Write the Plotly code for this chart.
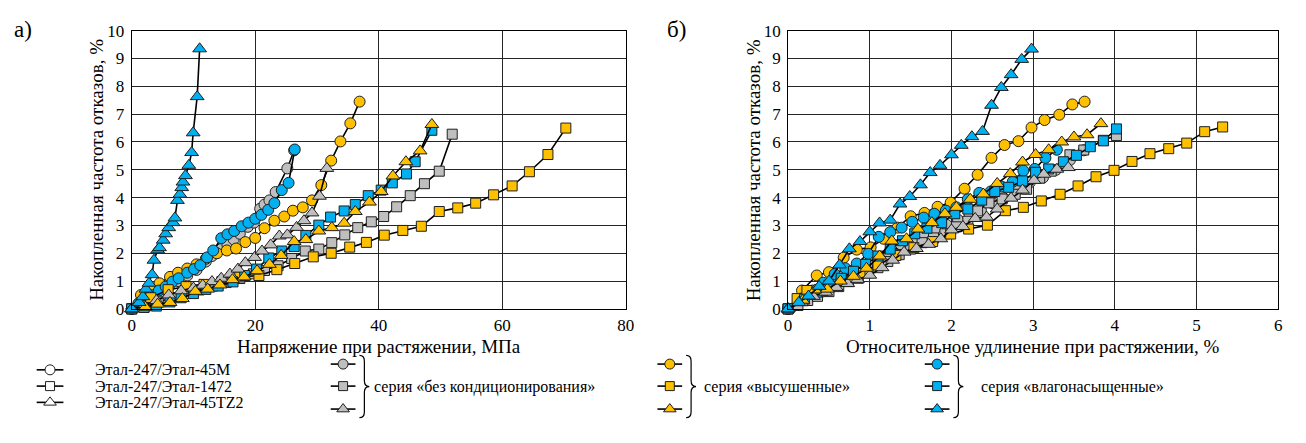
import plotly.graph_objects as go

W, H = 1306, 443
FONT = "Liberation Serif"

# ---------------- text / categories ----------------
materials = ["Этал-247/Этал-45М", "Этал-247/Этал-1472", "Этал-247/Этал-45TZ2"]
groups = ["серия «без кондиционирования»", "серия «высушенные»", "серия «влагонасыщенные»"]
x_title_left = "Напряжение при растяжении, МПа"
x_title_right = "Относительное удлинение при растяжении, %"
y_title = "Накопленная частота отказов, %"
panel_labels = ["а)", "б)"]
left_x_ticks = [0, 20, 40, 60, 80]
right_x_ticks = [0, 1, 2, 3, 4, 5, 6]
y_ticks = [0, 1, 2, 3, 4, 5, 6, 7, 8, 9, 10]

# ---------------- data: stress (left panel) ----------------
s_bk_45M_x = [0, 1.5, 3.0, 4.5, 6.0, 7.5, 9.0, 10.5, 12.0, 13.0, 14.5, 15.5, 16.5, 17.5, 18.8, 19.8, 20.8, 21.5, 22.3, 23.3, 25.2, 26.3]
s_bk_45M_y = [0, 0.2, 0.4, 0.6, 0.8, 1.0, 1.2, 1.4, 1.7, 1.9, 2.15, 2.3, 2.5, 2.7, 2.95, 3.1, 3.6, 3.75, 3.9, 4.2, 5.05, 5.7]
s_bk_1472_x = [0, 2.2, 4.3, 6.5, 8.7, 10.9, 13.1, 15.3, 17.5, 19.7, 21.5, 23.7, 25.9, 28.1, 30.3, 32.4, 34.5, 36.6, 38.8, 40.8, 42.9, 45.1, 47.4, 49.8, 51.9]
s_bk_1472_y = [0, 0.1, 0.25, 0.4, 0.55, 0.68, 0.82, 0.95, 1.09, 1.26, 1.38, 1.55, 1.81, 2.08, 2.15, 2.38, 2.66, 2.92, 3.13, 3.32, 3.67, 4.07, 4.5, 4.95, 6.28]
s_bk_TZ2_x = [0, 2.0, 4.0, 6.0, 8.0, 10.0, 11.5, 13.0, 14.5, 15.9, 17.2, 18.4, 19.9, 21.1, 22.5, 23.9, 25.2, 26.7, 27.9, 29.2, 30.4, 31.6]
s_bk_TZ2_y = [0, 0.1, 0.3, 0.5, 0.65, 0.75, 0.85, 0.98, 1.1, 1.25, 1.43, 1.66, 1.85, 2.08, 2.3, 2.62, 2.66, 2.93, 3.17, 3.45, 4.05, 5.05]

s_dry_45M_x = [0, 1.5, 3.0, 4.5, 6.2, 7.5, 9.0, 10.5, 12.0, 13.8, 15.4, 16.9, 18.4, 20.0, 21.5, 23.1, 24.7, 26.1, 27.7, 29.2, 30.7, 32.3, 33.8, 35.4, 36.9]
s_dry_45M_y = [0, 0.5, 0.75, 0.92, 1.15, 1.3, 1.45, 1.6, 1.8, 2.0, 2.1, 2.17, 2.4, 2.55, 2.9, 3.17, 3.32, 3.53, 3.65, 3.9, 4.45, 5.33, 6.02, 6.67, 7.45]
s_dry_1472_x = [0, 3.1, 5.9, 8.8, 11.7, 14.6, 17.5, 20.6, 23.5, 26.4, 29.4, 32.3, 35.3, 38.0, 40.9, 43.9, 46.9, 49.8, 52.8, 55.7, 58.6, 61.6, 64.4, 67.4, 70.3]
s_dry_1472_y = [0, 0.4, 0.69, 0.8, 0.88, 0.98, 1.15, 1.2, 1.41, 1.63, 1.87, 2.0, 2.22, 2.39, 2.65, 2.82, 2.97, 3.5, 3.63, 3.8, 4.1, 4.42, 4.93, 5.55, 6.5]
s_dry_TZ2_x = [0, 2.2, 4.2, 6.2, 8.2, 10.3, 12.3, 14.3, 16.3, 18.2, 20.3, 22.3, 24.2, 26.3, 28.2, 30.3, 32.4, 34.4, 36.2, 38.5, 40.4, 42.3, 44.4, 46.7, 48.6]
s_dry_TZ2_y = [0, 0.06, 0.17, 0.23, 0.37, 0.63, 0.71, 0.86, 1.05, 1.15, 1.37, 1.6, 1.92, 2.42, 2.49, 2.8, 2.92, 3.08, 3.5, 3.84, 4.22, 4.78, 5.29, 5.68, 6.63]

s_wet_45M_x = [0, 1.1, 2.2, 3.4, 4.4, 5.5, 6.6, 7.6, 9.0, 10.1, 11.1, 12.2, 13.2, 14.5, 15.5, 16.6, 17.8, 18.9, 20.0, 21.0, 22.1, 23.1, 24.3, 25.4, 26.4]
s_wet_45M_y = [0, 0.2, 0.35, 0.49, 0.66, 0.8, 0.98, 1.1, 1.3, 1.43, 1.57, 1.85, 2.1, 2.54, 2.68, 2.8, 2.97, 3.1, 3.24, 3.38, 3.56, 3.8, 4.27, 4.53, 5.73]
s_wet_1472_x = [0, 2.0, 4.0, 6.2, 8.0, 10.0, 12.0, 14.0, 16.4, 18.3, 20.2, 22.2, 24.3, 26.3, 28.2, 30.3, 32.2, 34.4, 36.2, 38.3, 40.4, 42.2, 44.5, 45.9, 48.6]
s_wet_1472_y = [0, 0.05, 0.1, 0.25, 0.4, 0.55, 0.7, 0.82, 0.97, 1.2, 1.43, 1.83, 2.08, 2.24, 2.64, 3.01, 3.3, 3.52, 3.75, 4.07, 4.27, 4.53, 4.85, 5.29, 6.42]
s_wet_TZ2_x = [0, 1.2, 1.8, 2.3, 2.8, 3.3, 3.6, 4.2, 4.5, 5.1, 5.5, 6.0, 6.7, 7.0, 7.4, 7.8, 8.1, 8.3, 8.7, 9.25, 9.7, 9.95, 10.6, 11.0]
s_wet_TZ2_y = [0, 0.23, 0.44, 0.71, 0.92, 1.23, 1.75, 2.12, 2.2, 2.47, 2.7, 2.92, 3.1, 3.27, 3.9, 4.12, 4.36, 4.56, 4.79, 5.16, 5.62, 6.33, 7.63, 9.35]

# ---------------- data: elongation (right panel) ----------------
e_bk_45M_x = [0, 0.13, 0.27, 0.4, 0.54, 0.68, 0.82, 0.97, 1.1, 1.24, 1.38, 1.52, 1.66, 1.8, 1.94, 2.08, 2.22, 2.36, 2.5, 2.64, 2.8, 2.96, 3.12, 3.28, 3.45, 3.62]
e_bk_45M_y = [0, 0.22, 0.42, 0.6, 0.88, 1.08, 1.27, 1.5, 1.78, 1.95, 2.32, 2.5, 2.62, 2.88, 3.02, 3.2, 3.42, 3.55, 3.8, 3.98, 4.25, 4.55, 4.72, 5.0, 5.35, 5.7]
e_bk_1472_x = [0, 0.12, 0.24, 0.36, 0.5, 0.62, 0.74, 0.86, 0.98, 1.1, 1.22, 1.36, 1.5, 1.64, 1.78, 1.92, 2.06, 2.2, 2.32, 2.46, 2.62, 2.78, 2.92, 3.08, 3.22, 3.45, 3.62, 3.86, 4.02]
e_bk_1472_y = [0, 0.12, 0.3, 0.45, 0.62, 0.8, 0.98, 1.1, 1.3, 1.48, 1.7, 1.95, 2.15, 2.38, 2.55, 2.7, 2.95, 3.15, 3.52, 3.81, 3.95, 4.12, 4.3, 4.7, 4.95, 5.54, 5.71, 6.06, 6.23]
e_bk_TZ2_x = [0, 0.16, 0.31, 0.46, 0.59, 0.73, 0.85, 1.0, 1.15, 1.28, 1.42, 1.57, 1.72, 1.87, 2.0, 2.14, 2.29, 2.43, 2.56, 2.73, 2.87, 3.01, 3.13, 3.29, 3.43]
e_bk_TZ2_y = [0, 0.22, 0.45, 0.6, 0.77, 0.91, 1.06, 1.21, 1.48, 1.75, 2.04, 2.17, 2.32, 2.52, 2.84, 2.96, 3.25, 3.3, 3.59, 3.98, 4.27, 4.62, 4.84, 5.02, 5.08]

e_dry_45M_x = [0, 0.17, 0.35, 0.5, 0.68, 0.84, 1.01, 1.17, 1.34, 1.5, 1.67, 1.83, 1.99, 2.16, 2.32, 2.49, 2.65, 2.82, 2.98, 3.14, 3.32, 3.48, 3.63]
e_dry_45M_y = [0, 0.66, 1.2, 1.32, 1.84, 2.13, 2.21, 2.52, 2.92, 3.33, 3.45, 3.67, 3.82, 4.32, 4.82, 5.43, 5.89, 6.03, 6.52, 6.79, 6.98, 7.35, 7.45]
e_dry_1472_x = [0, 0.11, 0.23, 0.43, 0.65, 0.88, 1.1, 1.32, 1.54, 1.77, 1.99, 2.21, 2.44, 2.66, 2.88, 3.1, 3.33, 3.55, 3.77, 3.99, 4.21, 4.43, 4.66, 4.88, 5.1, 5.32]
e_dry_1472_y = [0, 0.37, 0.66, 0.66, 1.0, 1.29, 1.58, 1.92, 2.2, 2.42, 2.69, 2.87, 3.01, 3.53, 3.65, 3.88, 4.12, 4.42, 4.75, 4.98, 5.3, 5.58, 5.76, 5.96, 6.37, 6.54]
e_dry_TZ2_x = [0, 0.18, 0.33, 0.48, 0.64, 0.8, 0.96, 1.12, 1.27, 1.45, 1.59, 1.76, 1.92, 2.06, 2.23, 2.39, 2.56, 2.72, 2.87, 3.03, 3.19, 3.35, 3.5, 3.66, 3.83]
e_dry_TZ2_y = [0, 0.31, 0.68, 0.71, 1.0, 1.17, 1.46, 1.9, 2.44, 2.52, 2.87, 3.1, 3.42, 3.65, 3.94, 4.13, 4.51, 4.86, 5.28, 5.55, 5.72, 6.0, 6.18, 6.26, 6.66]

e_wet_45M_x = [0, 0.16, 0.3, 0.43, 0.57, 0.7, 0.84, 0.98, 1.11, 1.25, 1.39, 1.52, 1.66, 1.79, 1.93, 2.06, 2.2, 2.34, 2.48, 2.61, 2.75, 2.88, 3.02, 3.15, 3.29]
e_wet_45M_y = [0, 0.37, 0.66, 0.94, 1.25, 1.46, 1.63, 1.98, 2.59, 2.76, 2.92, 3.13, 3.28, 3.42, 3.53, 3.65, 3.94, 4.17, 4.22, 4.4, 4.57, 4.97, 5.03, 5.43, 5.72]
e_wet_1472_x = [0, 0.2, 0.35, 0.5, 0.65, 0.8, 0.95, 1.1, 1.25, 1.4, 1.55, 1.7, 1.88, 2.04, 2.2, 2.37, 2.53, 2.7, 2.87, 3.03, 3.19, 3.37, 3.53, 3.7, 3.86, 4.02]
e_wet_1472_y = [0, 0.35, 0.6, 0.85, 1.1, 1.35, 1.6, 1.9, 2.15, 2.45, 2.7, 2.9, 3.1, 3.42, 3.59, 3.91, 4.22, 4.37, 4.6, 4.91, 5.03, 5.29, 5.52, 5.83, 6.04, 6.47]
e_wet_TZ2_x = [0, 0.13, 0.25, 0.38, 0.5, 0.63, 0.75, 0.88, 1.0, 1.12, 1.25, 1.37, 1.49, 1.62, 1.74, 1.86, 2.0, 2.12, 2.25, 2.38, 2.49, 2.61, 2.73, 2.86, 2.98]
e_wet_TZ2_y = [0, 0.23, 0.46, 0.81, 1.0, 1.58, 2.16, 2.42, 2.77, 3.09, 3.19, 3.77, 4.04, 4.46, 4.9, 5.16, 5.54, 5.88, 6.19, 6.38, 7.32, 7.96, 8.42, 8.97, 9.34]

# ---------------- styles ----------------
GRAY, YELLOW, BLUE = "#BFBFBF", "#FFC000", "#00B0F0"
group_colors = [GRAY, YELLOW, BLUE]
symbols = ["circle", "square", "triangle-up"]
sizes = [11, 10, 12]
EDGE = "#1f1f1f"

left_series = [
    [(s_bk_45M_x, s_bk_45M_y), (s_dry_45M_x, s_dry_45M_y), (s_wet_45M_x, s_wet_45M_y)],
    [(s_bk_1472_x, s_bk_1472_y), (s_dry_1472_x, s_dry_1472_y), (s_wet_1472_x, s_wet_1472_y)],
    [(s_bk_TZ2_x, s_bk_TZ2_y), (s_dry_TZ2_x, s_dry_TZ2_y), (s_wet_TZ2_x, s_wet_TZ2_y)],
]
right_series = [
    [(e_bk_45M_x, e_bk_45M_y), (e_dry_45M_x, e_dry_45M_y), (e_wet_45M_x, e_wet_45M_y)],
    [(e_bk_1472_x, e_bk_1472_y), (e_dry_1472_x, e_dry_1472_y), (e_wet_1472_x, e_wet_1472_y)],
    [(e_bk_TZ2_x, e_bk_TZ2_y), (e_dry_TZ2_x, e_dry_TZ2_y), (e_wet_TZ2_x, e_wet_TZ2_y)],
]

fig = go.Figure()

for panel, (xa, ya) in ((left_series, ("x", "y")), (right_series, ("x2", "y2"))):
    for mi, row in enumerate(panel):
        for gi, (xs, ys) in enumerate(row):
            fig.add_trace(go.Scatter(
                x=xs, y=ys, mode="lines+markers", xaxis=xa, yaxis=ya,
                line=dict(color="black", width=1.6),
                marker=dict(symbol=symbols[mi], size=sizes[mi], color=group_colors[gi],
                            line=dict(color=EDGE, width=1)),
                cliponaxis=False, showlegend=False,
                name=f"{materials[mi]} – {groups[gi]}"))

# ---------------- layout geometry (pixels) ----------------
L_X0, L_X1 = 129, 628
R_X0, R_X1 = 792, 1287
Y_TOP, Y_BOT = 22.7, 313.3


def fx(p):
    return p / W


def fy(p):
    return 1 - p / H


axis_common = dict(showgrid=True, gridcolor="#262626", gridwidth=1, showline=True,
                   linecolor="black", linewidth=1, mirror=True, ticks="inside",
                   ticklen=4, tickcolor="#262626", zeroline=False,
                   tickfont=dict(family=FONT, size=17, color="black"))

fig.update_layout(
    width=W, height=H, autosize=False,
    margin=dict(l=0, r=0, t=0, b=0),
    paper_bgcolor="white", plot_bgcolor="rgba(0,0,0,0)",
    font=dict(family=FONT, color="black"),
    xaxis=dict(domain=[fx(L_X0), fx(L_X1)], range=[0, 80], tickvals=left_x_ticks,
               anchor="y", ticklabelstandoff=1, **axis_common),
    yaxis=dict(domain=[fy(Y_BOT), fy(Y_TOP)], range=[0, 10], tickvals=y_ticks,
               anchor="x", ticklabelstandoff=3, **axis_common),
    xaxis2=dict(domain=[fx(R_X0), fx(R_X1)], range=[0, 6], tickvals=right_x_ticks,
                anchor="y2", ticklabelstandoff=1, **axis_common),
    yaxis2=dict(domain=[fy(Y_BOT), fy(Y_TOP)], range=[0, 10], tickvals=y_ticks,
                anchor="x2", ticklabelstandoff=3, **axis_common),
    xaxis3=dict(domain=[0, 1], range=[0, W], visible=False, anchor="y3", fixedrange=True),
    yaxis3=dict(domain=[0, 1], range=[H, 0], visible=False, anchor="x3", fixedrange=True),
)

ann = []
# axis titles
ann.append(dict(x=fx((L_X0 + L_X1) / 2), y=fy(353), text=x_title_left))
ann.append(dict(x=fx((R_X0 + R_X1) / 2), y=fy(353), text=x_title_right))
ann.append(dict(x=fx(L_X0 - 35), y=fy((Y_TOP + Y_BOT) / 2), text=y_title, textangle=-90))
ann.append(dict(x=fx(R_X0 - 35), y=fy((Y_TOP + Y_BOT) / 2), text=y_title, textangle=-90))
for a in ann:
    a.update(xref="paper", yref="paper", showarrow=False, xanchor="center", yanchor="middle",
             font=dict(family=FONT, size=19, color="black"))
# panel labels
for lbl, xpx in zip(panel_labels, (8, 668)):
    ann.append(dict(x=fx(xpx), y=fy(21), text=lbl, xref="paper", yref="paper", showarrow=False,
                    xanchor="left", yanchor="middle", font=dict(family=FONT, size=23, color="black")))

# ---------------- custom legend ----------------
leg_rows = [377, 394, 411]
grp_rows = [371, 394, 418]
col_sym_x = [(33, 60), (330, 355), (660, 685), (930, 955)]
brace_x = [359, 689, 959]
text_x = [90, 372, 705, 985]

shapes = []


def legend_symbol(x0, x1, y, sym, size, fill):
    fig.add_trace(go.Scatter(x=[x0, x1], y=[y, y], mode="lines", xaxis="x3", yaxis="y3",
                             line=dict(color="black", width=1.6), showlegend=False,
                             hoverinfo="skip", cliponaxis=False))
    fig.add_trace(go.Scatter(x=[(x0 + x1) / 2], y=[y], mode="markers", xaxis="x3", yaxis="y3",
                             marker=dict(symbol=sym, size=size, color=fill, line=dict(color=EDGE, width=1)),
                             showlegend=False, hoverinfo="skip", cliponaxis=False))


for mi in range(3):
    legend_symbol(col_sym_x[0][0], col_sym_x[0][1], leg_rows[mi], symbols[mi], sizes[mi] - 1, "white")
    ann.append(dict(x=fx(text_x[0]), y=fy(leg_rows[mi]), text=materials[mi], xref="paper", yref="paper",
                    showarrow=False, xanchor="left", yanchor="middle",
                    font=dict(family=FONT, size=16, color="black")))

for gi in range(3):
    sx0, sx1 = col_sym_x[gi + 1]
    for mi in range(3):
        legend_symbol(sx0, sx1, grp_rows[mi], symbols[mi], sizes[mi] - 1, group_colors[gi])
    # brace
    xl = brace_x[gi]
    w = 10
    yt, yb = grp_rows[0] - 9, grp_rows[2] + 9
    ym = (yt + yb) / 2
    xm = xl + w * 0.5
    xr = xl + w
    r = 6
    path = (f"M {fx(xl)},{fy(yt)} Q {fx(xm)},{fy(yt)} {fx(xm)},{fy(yt + r)} "
            f"L {fx(xm)},{fy(ym - r)} Q {fx(xm)},{fy(ym)} {fx(xr)},{fy(ym)} "
            f"Q {fx(xm)},{fy(ym)} {fx(xm)},{fy(ym + r)} L {fx(xm)},{fy(yb - r)} "
            f"Q {fx(xm)},{fy(yb)} {fx(xl)},{fy(yb)}")
    shapes.append(dict(type="path", path=path, xref="paper", yref="paper",
                       line=dict(color="black", width=1.2)))
    ann.append(dict(x=fx(text_x[gi + 1]), y=fy(ym), text=groups[gi], xref="paper", yref="paper",
                    showarrow=False, xanchor="left", yanchor="middle",
                    font=dict(family=FONT, size=16, color="black")))

fig.update_layout(annotations=ann, shapes=shapes)
fig.write_html("out.html")
